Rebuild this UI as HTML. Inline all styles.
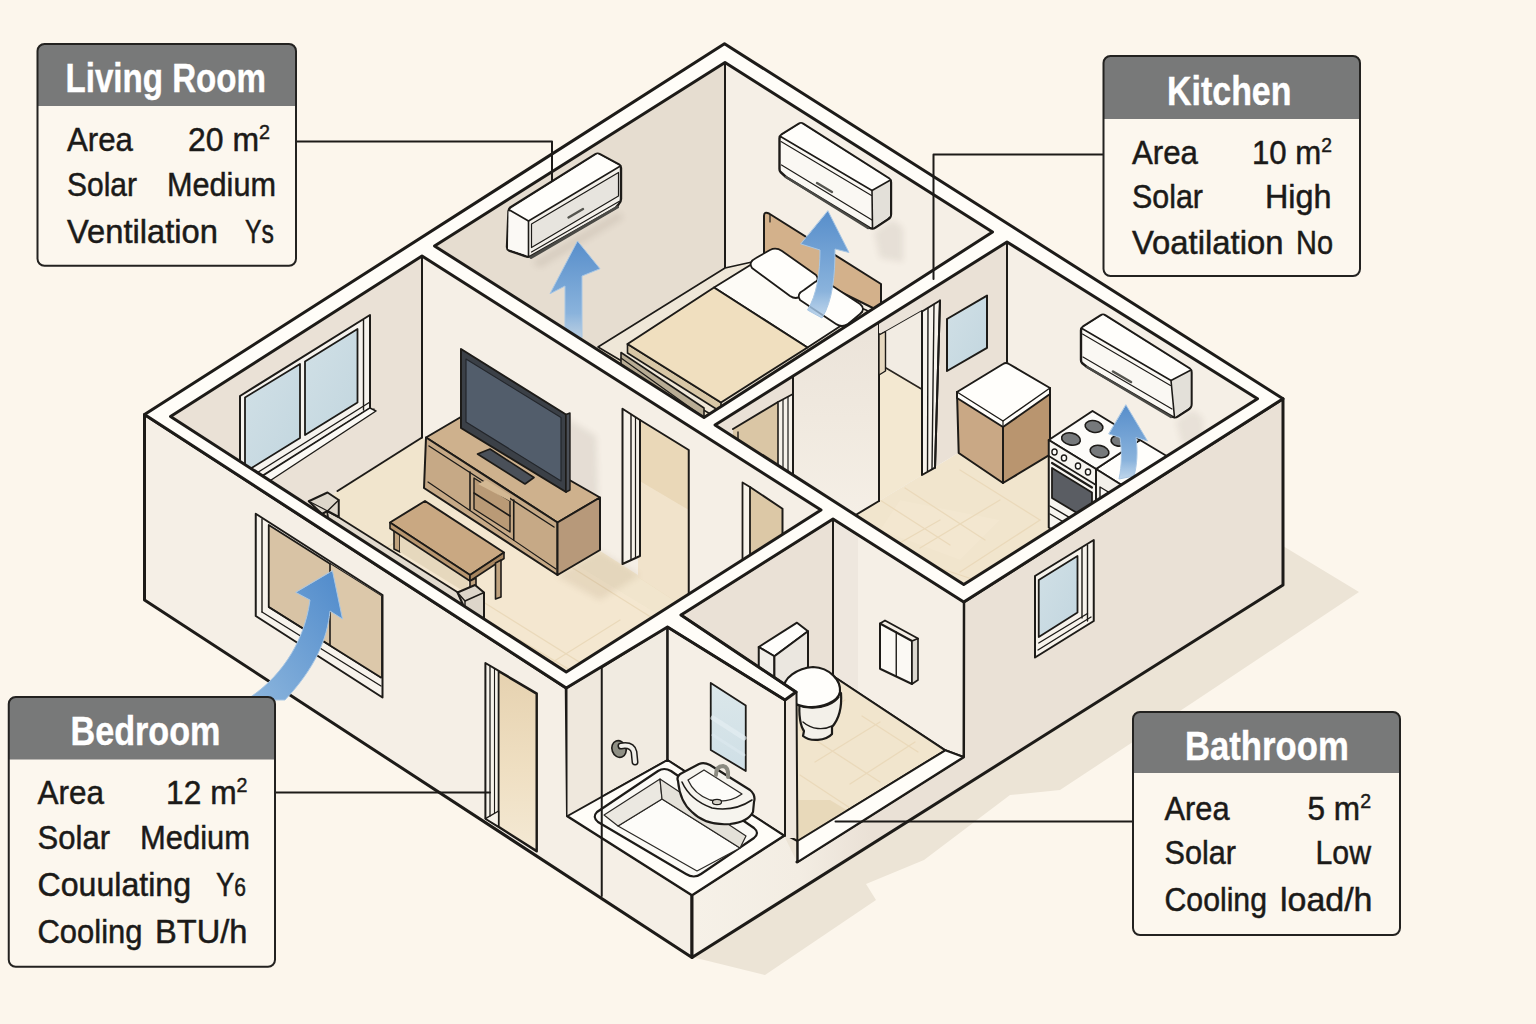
<!DOCTYPE html>
<html><head><meta charset="utf-8"><title>Cooling load floor plan</title>
<style>
html,body{margin:0;padding:0;background:#fcf6ec;}
body{width:1536px;height:1024px;overflow:hidden;font-family:"Liberation Sans",sans-serif;}
svg{display:block;}
text{font-family:"Liberation Sans",sans-serif;}
</style></head><body>
<svg width="1536" height="1024" viewBox="0 0 1536 1024">
<defs>
<linearGradient id="ar" x1="0" y1="0" x2="0" y2="1"><stop offset="0" stop-color="#578ecb"/><stop offset="0.75" stop-color="#8ab3dc"/><stop offset="1" stop-color="#a9c8e6" stop-opacity="0.75"/></linearGradient>
<linearGradient id="ar2" x1="0" y1="1" x2="1" y2="0"><stop offset="0" stop-color="#8db6dd"/><stop offset="1" stop-color="#4f8acb"/></linearGradient>
<linearGradient id="gl" x1="0" y1="0" x2="1" y2="1"><stop offset="0" stop-color="#d1e0e6"/><stop offset="1" stop-color="#c2d6df"/></linearGradient>
<filter id="bl" x="-30%" y="-30%" width="160%" height="160%"><feGaussianBlur stdDeviation="3"/></filter>
<linearGradient id="mir" x1="0" y1="0" x2="0" y2="1"><stop offset="0" stop-color="#dbe7ea"/><stop offset="1" stop-color="#cfdfe6"/></linearGradient>
</defs>
<rect x="0" y="0" width="1536" height="1024" fill="#fcf6ec"/>
<polygon points="1283,546 1359,592 1192,703 1060,790 1010,795 924,860 866,884 876,900 765,975 692,957 600,900 1283,500" fill="#ece4d6" stroke="none" stroke-width="0" stroke-linejoin="round" />
<polygon points="144.5,414.5 566.25,688 567.5,816 692,895 692,957.5 144.5,600" fill="#f5efe6" stroke="#1d1b18" stroke-width="3" stroke-linejoin="round" />
<polygon points="963.75,602 1283,398.75 1283,585 692,957.5 692,895 784,835.6 797,862 963.5,757" fill="#eae1d6" stroke="none" stroke-width="0" stroke-linejoin="round" />
<linearGradient id="lw" x1="0" y1="0" x2="1" y2="0"><stop offset="0" stop-color="#f6f1e8"/><stop offset="0.6" stop-color="#f3ede3"/><stop offset="1" stop-color="#eae1d6"/></linearGradient>
<polygon points="692,895 784,835.6 797,862 870,816 870,845 692,957.5" fill="url(#lw)" stroke="none" stroke-width="0" stroke-linejoin="round" />
<polyline points="797,862 963.5,757 963.75,602 1283,398.75 1283,585 692,957.5 692,895 784,835.6" fill="none" stroke="#1d1b18" stroke-width="3" stroke-linejoin="round" stroke-linecap="round" />
<polygon points="833,519 681,615 681,790 833,676" fill="#eae1d6" stroke="#1d1b18" stroke-width="2" stroke-linejoin="round" />
<polygon points="833,519 963.75,602 963.5,757 945.3,750.3 833,676" fill="#f5efe6" stroke="#1d1b18" stroke-width="2" stroke-linejoin="round" />
<polygon points="833,521 858,537 858,692 833,676" fill="#7a5a4a" stroke="none" stroke-width="0" stroke-linejoin="round" opacity="0.05"/>
<polygon points="833,676 945.3,750.3 797.5,841 700,790 700,740" fill="#f1e5cd" stroke="#1d1b18" stroke-width="2" stroke-linejoin="round" />
<polyline points="800,730 880,782" fill="none" stroke="#ead9ba" stroke-width="1.3" stroke-linejoin="round" stroke-linecap="round" />
<polyline points="845,700 800,728" fill="none" stroke="#ead9ba" stroke-width="1.3" stroke-linejoin="round" stroke-linecap="round" />
<polyline points="880,722 815,762" fill="none" stroke="#ead9ba" stroke-width="1.3" stroke-linejoin="round" stroke-linecap="round" />
<polyline points="915,742 850,784" fill="none" stroke="#ead9ba" stroke-width="1.3" stroke-linejoin="round" stroke-linecap="round" />
<polyline points="800,775 850,808" fill="none" stroke="#ead9ba" stroke-width="1.3" stroke-linejoin="round" stroke-linecap="round" />
<polyline points="862,716 918,752" fill="none" stroke="#ead9ba" stroke-width="1.3" stroke-linejoin="round" stroke-linecap="round" />
<polygon points="798,800 830,800 850,812 798,841" fill="#e3d0ad" stroke="none" stroke-width="0" stroke-linejoin="round" opacity="0.6"/>
<polygon points="945.3,750.3 963.5,757 797.5,862 797.5,841" fill="#fffdf8" stroke="#1d1b18" stroke-width="2" stroke-linejoin="round" />
<polyline points="833,519 833,676" fill="none" stroke="#1d1b18" stroke-width="2" stroke-linejoin="round" stroke-linecap="round" />
<polygon points="880,623.5 912,641 912,684 880,668.75" fill="#fbf9f4" stroke="#1d1b18" stroke-width="2" stroke-linejoin="round" />
<polygon points="912,641 918,638.5 918,680 912,684" fill="#dcd8d0" stroke="#1d1b18" stroke-width="1.6" stroke-linejoin="round" />
<path d="M 880 623.5 L 885 620.5 L 918 638.5" fill="none" stroke="#1d1b18" stroke-width="1.8" stroke-linejoin="round" stroke-linecap="round" />
<polyline points="896.25,632 896.25,676" fill="none" stroke="#1d1b18" stroke-width="1.4" stroke-linejoin="round" stroke-linecap="round" />
<polygon points="758.75,647 797,622.7 808,631.25 774.4,656.25" fill="#fffefb" stroke="#1d1b18" stroke-width="2" stroke-linejoin="round" />
<polygon points="758.75,647 774.4,656.25 774.4,690 758.75,682" fill="#f1eee8" stroke="#1d1b18" stroke-width="2" stroke-linejoin="round" />
<polygon points="774.4,656.25 808,631.25 808,667 774.4,690" fill="#ebe7e0" stroke="#1d1b18" stroke-width="2" stroke-linejoin="round" />
<path d="M 800 700 C 798 716, 801 727, 804 731 L 803 736 C 810 742, 826 741, 832 734 L 832 727 C 839 719, 842 707, 841 693 Z" fill="#f3f0e9" stroke="#1d1b18" stroke-width="2.2" stroke-linejoin="round" stroke-linecap="round" />
<path d="M 803 722 C 812 730, 824 730, 832 726" fill="none" stroke="#1d1b18" stroke-width="1.4" stroke-linejoin="round" stroke-linecap="round" />
<path d="M 784 690 C 782 678, 798 668, 813 667 C 830 668, 841 680, 840 692 C 838 702, 822 708, 808 707 C 796 706, 786 700, 784 690 Z" fill="#fffefb" stroke="#1d1b18" stroke-width="2.2" stroke-linejoin="round" stroke-linecap="round" />
<path d="M 786 696 C 796 712, 828 712, 839 697" fill="none" stroke="#1d1b18" stroke-width="1.4" stroke-linejoin="round" stroke-linecap="round" />
<polygon points="567.5,688.75 667.5,627 667.5,760 567.5,816" fill="#f1ebe1" stroke="#1d1b18" stroke-width="2" stroke-linejoin="round" />
<polygon points="567.5,688.75 601.75,667.5 601.75,797 567.5,816" fill="#efe8dd" stroke="none" stroke-width="0" stroke-linejoin="round" />
<polygon points="667.5,627 785,700 785,836 667.5,760" fill="#f5efe6" stroke="#1d1b18" stroke-width="2" stroke-linejoin="round" />
<polygon points="785,700 796.5,692 796.5,838 785,838" fill="#efe7dd" stroke="none" stroke-width="0" stroke-linejoin="round" />
<polyline points="785,700 785,836" fill="none" stroke="#1d1b18" stroke-width="2" stroke-linejoin="round" stroke-linecap="round" />
<polyline points="796.5,692 797.5,862" fill="none" stroke="#1d1b18" stroke-width="2" stroke-linejoin="round" stroke-linecap="round" />
<polygon points="710.75,683 745.75,705.5 745.75,771 710.75,750" fill="url(#mir)" stroke="#1d1b18" stroke-width="1.8" stroke-linejoin="round" />
<polyline points="713,718 744,738" fill="none" stroke="#e4eef2" stroke-width="5" stroke-linejoin="round" stroke-linecap="round" opacity="0.7"/>
<polyline points="713,735 744,755" fill="none" stroke="#dbe8ee" stroke-width="3" stroke-linejoin="round" stroke-linecap="round" opacity="0.7"/>
<polygon points="567.5,816 667.5,760 784,835.6 692,895" fill="#fffdf8" stroke="#1d1b18" stroke-width="2" stroke-linejoin="round" />
<path d="M 597 812 L 658 771 Q 664 767 671 771 L 754 828 Q 760 833 754 838 L 701 874 Q 694 879 686 874 L 598 822 Q 592 817 597 812 Z" fill="#fbfaf6" stroke="#1d1b18" stroke-width="2.2" stroke-linejoin="round" stroke-linecap="round" />
<path d="M 618 826 L 662 799 L 740 848 L 697 871 Z" fill="#fdfcf9" stroke="#2a2825" stroke-width="1.2" stroke-linejoin="round" stroke-linecap="round" />
<path d="M 604 815 L 660 779 L 662 799 L 618 826 Z" fill="#ebe8e1" stroke="#2a2825" stroke-width="1.2" stroke-linejoin="round" stroke-linecap="round" />
<path d="M 660 779 L 746 836 L 740 848 L 662 799 Z" fill="#e4e1d9" stroke="#2a2825" stroke-width="1.2" stroke-linejoin="round" stroke-linecap="round" />
<path d="M 678 781 Q 676 776 682 773 L 699 764 Q 704 762 710 765 L 750 790 Q 756 795 754 802 L 753 812 Q 748 822 730 824 Q 706 826 692 812 Q 680 802 678 781 Z" fill="#f6f4ee" stroke="#1d1b18" stroke-width="2.2" stroke-linejoin="round" stroke-linecap="round" />
<path d="M 682 782 Q 690 800 712 808 Q 734 812 752 800" fill="none" stroke="#1d1b18" stroke-width="1.6" stroke-linejoin="round" stroke-linecap="round" />
<path d="M 688 780 L 704 770 L 742 794 Q 728 804 710 800 Q 694 794 688 780 Z" fill="#fdfcf9" stroke="#2a2825" stroke-width="1.3" stroke-linejoin="round" stroke-linecap="round" />
<ellipse cx="717" cy="802" rx="4.5" ry="2.6" fill="#d6d2c8" stroke="#1d1b18" stroke-width="1.2"/>
<path d="M 716 775 Q 716 766 723 766 Q 729 767 728 777" fill="none" stroke="#8b8a80" stroke-width="4" stroke-linejoin="round" stroke-linecap="round" />
<path d="M 716 775 Q 716 766 723 766 Q 729 767 728 777" fill="none" stroke="#1d1b18" stroke-width="1" stroke-linejoin="round" stroke-linecap="round" opacity="0.0"/>
<ellipse cx="619" cy="749" rx="7" ry="8.5" fill="#8f8f84" stroke="#1d1b18" stroke-width="1.6" transform="rotate(-20 619 749)"/>
<path d="M 621 746 Q 632 744 634 752 L 635 762" fill="none" stroke="#1d1b18" stroke-width="7" stroke-linejoin="round" stroke-linecap="round" />
<path d="M 621 746 Q 632 744 634 752 L 635 762" fill="none" stroke="#f1efe9" stroke-width="4" stroke-linejoin="round" stroke-linecap="round" />
<polyline points="601.75,667.5 601.75,896" fill="none" stroke="#1d1b18" stroke-width="2" stroke-linejoin="round" stroke-linecap="round" />
<polyline points="667.5,627 667.5,760" fill="none" stroke="#1d1b18" stroke-width="2" stroke-linejoin="round" stroke-linecap="round" />
<polygon points="724.5,43.75 1283,398.75 963.75,602 833,519 681,615 796,692 785,700 667.5,627 566.25,688 144.5,414.5" fill="#fffdf8" stroke="#1d1b18" stroke-width="3" stroke-linejoin="round" />
<clipPath id="cliv"><polygon points="170.5,416.5 422,256 821,510 566.25,672"/></clipPath>
<g clip-path="url(#cliv)">
<polygon points="170.5,416.5 422,256 422,437.5 170.5,598" fill="#eae1d6" stroke="none" stroke-width="0" stroke-linejoin="round" />
<polygon points="422,256 821,510 821,694 422,437.5" fill="#f5efe6" stroke="none" stroke-width="0" stroke-linejoin="round" />
<polygon points="422,437.5 821,691.5 566,853 170.5,598" fill="#f1e5cd" stroke="none" stroke-width="0" stroke-linejoin="round" />
<polygon points="470,500 700,640 600,700 380,560" fill="#f6ead3" stroke="none" stroke-width="0" stroke-linejoin="round" opacity="0.55"/>
<polyline points="480,600 640,700" fill="none" stroke="#ead9ba" stroke-width="1.3" stroke-linejoin="round" stroke-linecap="round" />
<polyline points="560,560 700,648" fill="none" stroke="#ead9ba" stroke-width="1.3" stroke-linejoin="round" stroke-linecap="round" />
<polyline points="620,620 540,670" fill="none" stroke="#ead9ba" stroke-width="1.3" stroke-linejoin="round" stroke-linecap="round" />
<polyline points="690,610 590,672" fill="none" stroke="#ead9ba" stroke-width="1.3" stroke-linejoin="round" stroke-linecap="round" />
<polyline points="520,640 580,676" fill="none" stroke="#ead9ba" stroke-width="1.3" stroke-linejoin="round" stroke-linecap="round" />
<polyline points="660,590 740,640" fill="none" stroke="#ead9ba" stroke-width="1.3" stroke-linejoin="round" stroke-linecap="round" />
<polyline points="600,690 640,664" fill="none" stroke="#ead9ba" stroke-width="1.3" stroke-linejoin="round" stroke-linecap="round" />
<polyline points="430,520 380,552" fill="none" stroke="#ead9ba" stroke-width="1.3" stroke-linejoin="round" stroke-linecap="round" />
<polyline points="700,650 640,690" fill="none" stroke="#ead9ba" stroke-width="1.3" stroke-linejoin="round" stroke-linecap="round" />
<polyline points="422,256 422,437.5" fill="none" stroke="#1d1b18" stroke-width="2" stroke-linejoin="round" stroke-linecap="round" />
<polyline points="422,437.5 337.5,491" fill="none" stroke="#1d1b18" stroke-width="2" stroke-linejoin="round" stroke-linecap="round" />
<polygon points="240,396 370,315 370,408 240,490" fill="#f6f3ee" stroke="#1d1b18" stroke-width="2" stroke-linejoin="round" />
<polygon points="245,397.5 300,364 300,438 245,472" fill="url(#gl)" stroke="#1d1b18" stroke-width="1.8" stroke-linejoin="round" />
<polygon points="305,361.5 357.5,329 357.5,402.5 305,435" fill="url(#gl)" stroke="#1d1b18" stroke-width="1.8" stroke-linejoin="round" />
<polyline points="363.5,320 363.5,410" fill="none" stroke="#1d1b18" stroke-width="1.4" stroke-linejoin="round" stroke-linecap="round" />
<polyline points="252,476 370,402" fill="none" stroke="#1d1b18" stroke-width="1.4" stroke-linejoin="round" stroke-linecap="round" />
<polyline points="258,482 374,409" fill="none" stroke="#1d1b18" stroke-width="1.4" stroke-linejoin="round" stroke-linecap="round" />
<polygon points="370,408 376,411 262,486 250,484" fill="#fbf9f5" stroke="#1d1b18" stroke-width="1.4" stroke-linejoin="round" />
<polygon points="638,420 688.75,450 688.75,610 638,577" fill="#ead8b8" stroke="none" stroke-width="0" stroke-linejoin="round" />
<polygon points="638,480 688.75,510 688.75,610 638,577" fill="#f2e6cf" stroke="none" stroke-width="0" stroke-linejoin="round" opacity="0.8"/>
<polyline points="640,420 688.75,450 688.75,598" fill="none" stroke="#1d1b18" stroke-width="2" stroke-linejoin="round" stroke-linecap="round" />
<polygon points="622.5,408.75 640,420 640,556 622.5,564" fill="#f6f2ea" stroke="#1d1b18" stroke-width="2" stroke-linejoin="round" />
<polyline points="631,414.5 631,560" fill="none" stroke="#1d1b18" stroke-width="1.4" stroke-linejoin="round" stroke-linecap="round" />
<polyline points="635.5,417.5 635.5,558" fill="none" stroke="#1d1b18" stroke-width="1.2" stroke-linejoin="round" stroke-linecap="round" />
<polygon points="750,487 782.5,508.75 782.5,670 750,650" fill="#dcc8a6" stroke="none" stroke-width="0" stroke-linejoin="round" />
<polyline points="750,487 782.5,508.75 782.5,600" fill="none" stroke="#1d1b18" stroke-width="2" stroke-linejoin="round" stroke-linecap="round" />
<polygon points="742.5,482.5 750,487 750,650 742.5,645" fill="#f6f2ea" stroke="#1d1b18" stroke-width="1.8" stroke-linejoin="round" />
<polygon points="566,418 596,436 598,500 566,492" fill="#5a4a3a" stroke="none" stroke-width="0" stroke-linejoin="round" opacity="0.10" filter="url(#bl)"/>
<polygon points="557,576 600,551 640,575 600,600" fill="#8a6d45" stroke="none" stroke-width="0" stroke-linejoin="round" opacity="0.12" filter="url(#bl)"/>
<polygon points="426,437.5 460,417.5 600,497.5 557.5,522.5" fill="#ceb18d" stroke="#1d1b18" stroke-width="2" stroke-linejoin="round" />
<polygon points="426,437.5 557.5,522.5 557.5,575 424,488" fill="#c6a986" stroke="#1d1b18" stroke-width="2" stroke-linejoin="round" />
<polygon points="557.5,522.5 600,497.5 600,550 557.5,575" fill="#b7997a" stroke="#1d1b18" stroke-width="2" stroke-linejoin="round" />
<polyline points="429,446 554,527" fill="none" stroke="#1d1b18" stroke-width="1.4" stroke-linejoin="round" stroke-linecap="round" />
<polyline points="470,472 470,510" fill="none" stroke="#1d1b18" stroke-width="1.6" stroke-linejoin="round" stroke-linecap="round" />
<polyline points="513.75,500 513.75,540" fill="none" stroke="#1d1b18" stroke-width="1.6" stroke-linejoin="round" stroke-linecap="round" />
<polygon points="474,478 510,501 510,532 474,509" fill="#b99a76" stroke="#1d1b18" stroke-width="1.4" stroke-linejoin="round" />
<polyline points="474,493 510,516" fill="none" stroke="#1d1b18" stroke-width="1.6" stroke-linejoin="round" stroke-linecap="round" />
<polygon points="478,484 486,480 510,495 510,501" fill="#d3b893" stroke="none" stroke-width="0" stroke-linejoin="round" />
<polyline points="428,482 556,569" fill="none" stroke="#1d1b18" stroke-width="1.2" stroke-linejoin="round" stroke-linecap="round" />
<polygon points="477.5,454 490,449 534,477.5 525,484" fill="#4a5059" stroke="#1d1b18" stroke-width="1.6" stroke-linejoin="round" />
<polygon points="461,349 566,414.5 566,492 461,428" fill="#3b4047" stroke="#1d1b18" stroke-width="2" stroke-linejoin="round" />
<polygon points="566,414.5 570,413 570,490 566,492" fill="#4a4f57" stroke="#1d1b18" stroke-width="1.4" stroke-linejoin="round" />
<polygon points="466,359 561,417.5 561,481 466,422" fill="#525d6b" stroke="#23262b" stroke-width="1.2" stroke-linejoin="round" />
<polygon points="394,527 400,530 400,552 394,549" fill="#bfa27e" stroke="#1d1b18" stroke-width="1.6" stroke-linejoin="round" />
<polygon points="400,531 468,578 468,594 400,552" fill="#e6d8bd" stroke="none" stroke-width="0" stroke-linejoin="round" />
<polygon points="390,522.5 425,501 504,552.5 470,575" fill="#c9a882" stroke="#1d1b18" stroke-width="2" stroke-linejoin="round" />
<polygon points="390,522.5 470,575 470,581 390,528.5" fill="#b8966f" stroke="#1d1b18" stroke-width="1.6" stroke-linejoin="round" />
<polygon points="470,575 504,552.5 504,558.5 470,581" fill="#a88660" stroke="#1d1b18" stroke-width="1.6" stroke-linejoin="round" />
<polygon points="495.5,563 501,560 501,597 495.5,599" fill="#bfa27e" stroke="#1d1b18" stroke-width="1.6" stroke-linejoin="round" />
<polygon points="470,581 476,578 476,600 470,603" fill="#bfa27e" stroke="#1d1b18" stroke-width="1.6" stroke-linejoin="round" />
<polygon points="327,511 339,517.5 458,592.5 466,612 330,530" fill="#e2dbcf" stroke="#1d1b18" stroke-width="1.8" stroke-linejoin="round" />
<polyline points="333,522 460,603" fill="none" stroke="#1d1b18" stroke-width="1.1" stroke-linejoin="round" stroke-linecap="round" />
<polygon points="308.75,501.25 327.5,492.5 338.75,500 338.75,517 327.5,511 322,514" fill="#ddd6ca" stroke="#1d1b18" stroke-width="2" stroke-linejoin="round" />
<polyline points="327.5,511 338.75,500" fill="none" stroke="#1d1b18" stroke-width="1.4" stroke-linejoin="round" stroke-linecap="round" />
<polyline points="308.75,501.25 322,508 327.5,511" fill="none" stroke="#1d1b18" stroke-width="1.2" stroke-linejoin="round" stroke-linecap="round" />
<polygon points="457.5,592.5 475,585 484,592.5 484,620 465,609" fill="#ddd6ca" stroke="#1d1b18" stroke-width="2" stroke-linejoin="round" />
<polyline points="465,601 484,592.5" fill="none" stroke="#1d1b18" stroke-width="1.4" stroke-linejoin="round" stroke-linecap="round" />
<polyline points="457.5,592.5 465,601 465,609" fill="none" stroke="#1d1b18" stroke-width="1.4" stroke-linejoin="round" stroke-linecap="round" />
</g>
<clipPath id="cbed"><polygon points="434.5,246 725,62.5 992.5,232 704,417.5"/></clipPath>
<g clip-path="url(#cbed)">
<polygon points="434.5,246 725,62.5 725,268 434.5,452" fill="#e6ddd0" stroke="none" stroke-width="0" stroke-linejoin="round" />
<polygon points="725,62.5 992.5,232 992.5,440 725,268" fill="#f5efe6" stroke="none" stroke-width="0" stroke-linejoin="round" />
<polygon points="725,268 992.5,440 704,620 434.5,452" fill="#f1e5cd" stroke="none" stroke-width="0" stroke-linejoin="round" />
<polyline points="725,62.5 725,268" fill="none" stroke="#1d1b18" stroke-width="2" stroke-linejoin="round" stroke-linecap="round" />
<polygon points="532,262 618,212 624,218 540,268" fill="#5a4a3a" stroke="none" stroke-width="0" stroke-linejoin="round" opacity="0.10" filter="url(#bl)"/>
<path d="M 508.5 211 Q 508.5 208.5 511 207 L 595 154.5 Q 597.5 153 600 154.3 L 619 164.5 Q 621 165.6 621 168 L 621 199 Q 621 202 618.5 204.5 L 615.6 208 L 531 256 Q 528 257.5 525 256 L 509 250.5 Q 507 249.5 507 247 Z" fill="#f3f0ea" stroke="#1d1b18" stroke-width="2.4" stroke-linejoin="round" stroke-linecap="round" />
<polygon points="510,209.4 597.5,154 619.5,166 529,221" fill="#fffefb" stroke="none" stroke-width="0" stroke-linejoin="round" />
<polygon points="508.5,211 528,221.5 528,255.5 508,249" fill="#fbf9f5" stroke="none" stroke-width="0" stroke-linejoin="round" />
<polyline points="509.5,210 528.5,221 620,166.3" fill="none" stroke="#1d1b18" stroke-width="1.6" stroke-linejoin="round" stroke-linecap="round" />
<polyline points="528.5,221 528.5,256" fill="none" stroke="#1d1b18" stroke-width="1.6" stroke-linejoin="round" stroke-linecap="round" />
<polygon points="531.5,224 618.5,172.5 618.5,196 531.5,247.5" fill="#e7e4de" stroke="#1d1b18" stroke-width="1.2" stroke-linejoin="round" />
<polyline points="531,257.5 617.5,207" fill="none" stroke="#4a4a46" stroke-width="3" stroke-linejoin="round" stroke-linecap="round" />
<polyline points="531.5,252 619,201.5" fill="none" stroke="#1d1b18" stroke-width="1.2" stroke-linejoin="round" stroke-linecap="round" />
<polyline points="568.5,217.5 583,209" fill="none" stroke="#55554f" stroke-width="2.4" stroke-linejoin="round" stroke-linecap="round" />
<polygon points="577.5,241 600,268.75 582,276 582,337.5 565,327.5 565,286 550,293.75" fill="url(#ar)" stroke="#a9c7e4" stroke-width="1" stroke-linejoin="round" />
<polygon points="598,347 725,268 752,262 866,310 880,318 722,421 620,360" fill="#efe7d8" stroke="#1d1b18" stroke-width="1.6" stroke-linejoin="round" />
<polygon points="621,352.5 704,408 704,428 621,364" fill="#b9ad95" stroke="#1d1b18" stroke-width="1.6" stroke-linejoin="round" />
<polyline points="621,358 704,417.5" fill="none" stroke="#1d1b18" stroke-width="1.2" stroke-linejoin="round" stroke-linecap="round" />
<polygon points="627.5,344 721,402.5 721,412 627.5,353" fill="#d8c7a6" stroke="#1d1b18" stroke-width="1.6" stroke-linejoin="round" />
<polygon points="714,287.5 752,264 862,312 807.5,347.5" fill="#fdfbf6" stroke="#1d1b18" stroke-width="1.8" stroke-linejoin="round" />
<polygon points="627.5,344 714,287.5 807.5,347.5 721,402.5" fill="#f0dfbf" stroke="#1d1b18" stroke-width="2" stroke-linejoin="round" />
<path d="M 764 216 Q 764 211 769 213.5 L 881 284 L 881 312 L 764 254 Z" fill="#d3b18b" stroke="#1d1b18" stroke-width="2" stroke-linejoin="round" stroke-linecap="round" />
<polyline points="770,214.5 770,222" fill="none" stroke="#1d1b18" stroke-width="1.2" stroke-linejoin="round" stroke-linecap="round" />
<path d="M 752 268 Q 748 262 756 258 L 770 250 Q 776 247 782 251 L 816 275 Q 820 280 814 284 L 801 296 Q 796 300 790 296 Z" fill="#fffefb" stroke="#1d1b18" stroke-width="1.8" stroke-linejoin="round" stroke-linecap="round" />
<path d="M 800 300 Q 796 294 804 290 L 815 282 Q 821 278 828 283 L 860 304 Q 866 309 860 314 L 848 324 Q 842 328 836 324 Z" fill="#fffefb" stroke="#1d1b18" stroke-width="1.8" stroke-linejoin="round" stroke-linecap="round" />
<polygon points="874,232 893,220 903,228 903,262 880,258" fill="#5a4a3a" stroke="none" stroke-width="0" stroke-linejoin="round" opacity="0.09" filter="url(#bl)"/>
<path d="M 779.5 138.5 Q 779.5 136 782 134.3 L 798.5 124 Q 801 122.5 803.5 124 L 889 178.5 Q 891 180 891 182.5 L 891 214 Q 891 217.5 888 219.3 L 875.5 227.5 Q 872.5 229.5 869.5 227.8 L 786 177 L 780.5 172 Q 779.5 171 779.5 169 Z" fill="#faf8f3" stroke="#1d1b18" stroke-width="2.4" stroke-linejoin="round" stroke-linecap="round" />
<polygon points="781,136 801,123.5 890,180 872,190.5" fill="#fffefb" stroke="none" stroke-width="0" stroke-linejoin="round" />
<polygon points="872.5,191 890,180.5 890,216 872.5,228" fill="#e3e0d9" stroke="none" stroke-width="0" stroke-linejoin="round" />
<polyline points="780.5,136.5 872,190.5 890.5,180" fill="none" stroke="#1d1b18" stroke-width="1.6" stroke-linejoin="round" stroke-linecap="round" />
<polyline points="872,190.5 872.5,228.5" fill="none" stroke="#1d1b18" stroke-width="1.6" stroke-linejoin="round" stroke-linecap="round" />
<polyline points="781,141.5 871.5,195.5" fill="none" stroke="#1d1b18" stroke-width="1.1" stroke-linejoin="round" stroke-linecap="round" />
<polyline points="781.5,165 872,220" fill="none" stroke="#1d1b18" stroke-width="1.2" stroke-linejoin="round" stroke-linecap="round" />
<polyline points="786,177 868,228" fill="none" stroke="#4a4a46" stroke-width="2.4" stroke-linejoin="round" stroke-linecap="round" />
<polyline points="817,183 832,192" fill="none" stroke="#55554f" stroke-width="2.4" stroke-linejoin="round" stroke-linecap="round" />
<path d="M 828 211 L 849 252.5 L 835 249 C 835 275, 833 300, 822 318 L 807.5 310 C 817 295, 820 272, 820 250 L 801 244 Z" fill="url(#ar)" stroke="#a9c7e4" stroke-width="1" stroke-linejoin="round" stroke-linecap="round" />
</g>
<clipPath id="ckit"><polygon points="1007,242 1257.5,398.75 963.75,584.5 715,425"/></clipPath>
<g clip-path="url(#ckit)">
<polygon points="1007,242 1257.5,398.75 1257.5,590 1007,423.5" fill="#f5efe6" stroke="none" stroke-width="0" stroke-linejoin="round" />
<polygon points="1007,423.5 1257.5,585 963,700 715,600" fill="#f1e5cd" stroke="none" stroke-width="0" stroke-linejoin="round" />
<polygon points="900,500 1000,520 960,560 880,530" fill="#f6ead3" stroke="none" stroke-width="0" stroke-linejoin="round" opacity="0.5"/>
<polyline points="905,488 985,540" fill="none" stroke="#ead9ba" stroke-width="1.3" stroke-linejoin="round" stroke-linecap="round" />
<polyline points="960,470 1040,520" fill="none" stroke="#ead9ba" stroke-width="1.3" stroke-linejoin="round" stroke-linecap="round" />
<polyline points="940,520 870,560" fill="none" stroke="#ead9ba" stroke-width="1.3" stroke-linejoin="round" stroke-linecap="round" />
<polyline points="1000,500 920,548" fill="none" stroke="#ead9ba" stroke-width="1.3" stroke-linejoin="round" stroke-linecap="round" />
<polyline points="1040,520 960,572" fill="none" stroke="#ead9ba" stroke-width="1.3" stroke-linejoin="round" stroke-linecap="round" />
<polyline points="880,500 950,545" fill="none" stroke="#ead9ba" stroke-width="1.3" stroke-linejoin="round" stroke-linecap="round" />
<polyline points="915,560 975,580" fill="none" stroke="#ead9ba" stroke-width="1.3" stroke-linejoin="round" stroke-linecap="round" />
<polyline points="890,470 860,500" fill="none" stroke="#ead9ba" stroke-width="1.3" stroke-linejoin="round" stroke-linecap="round" />
<polygon points="1007,242 1007,423.5 715,600 715,425" fill="#eae1d6" stroke="none" stroke-width="0" stroke-linejoin="round" />
<polygon points="733,429 778,402 778,560 733,590" fill="#dac6a5" stroke="none" stroke-width="0" stroke-linejoin="round" />
<polyline points="733,429 778,402" fill="none" stroke="#1d1b18" stroke-width="2" stroke-linejoin="round" stroke-linecap="round" />
<polyline points="738,432 738,480" fill="none" stroke="#1d1b18" stroke-width="1.4" stroke-linejoin="round" stroke-linecap="round" />
<polygon points="778,402 793,394 793,480 778,487" fill="#f6f2ea" stroke="#1d1b18" stroke-width="1.6" stroke-linejoin="round" />
<polyline points="783,399.5 783,484" fill="none" stroke="#1d1b18" stroke-width="1.2" stroke-linejoin="round" stroke-linecap="round" />
<polyline points="788,397 788,482" fill="none" stroke="#1d1b18" stroke-width="1.2" stroke-linejoin="round" stroke-linecap="round" />
<linearGradient id="wg" x1="0" y1="0" x2="0" y2="1"><stop offset="0" stop-color="#ebe3d9"/><stop offset="0.5" stop-color="#f0e9df"/><stop offset="1" stop-color="#f5efe6"/></linearGradient>
<polygon points="793,375 879,321 879,501 854,516 793,478" fill="url(#wg)" stroke="#1d1b18" stroke-width="2" stroke-linejoin="round" />
<polygon points="879,321 922,294.5 922,311 879,335.5" fill="#ebe3d9" stroke="none" stroke-width="0" stroke-linejoin="round" />
<polyline points="879,335.5 922,311" fill="none" stroke="#1d1b18" stroke-width="2" stroke-linejoin="round" stroke-linecap="round" />
<polygon points="879,335.5 922,311 922,475 879,501" fill="#f2ece3" stroke="none" stroke-width="0" stroke-linejoin="round" />
<polygon points="885.5,368 922,389 922,475 879,501 879,376" fill="#f3e8d1" stroke="none" stroke-width="0" stroke-linejoin="round" />
<polyline points="886,368 921,388.75" fill="none" stroke="#2a2621" stroke-width="1.6" stroke-linejoin="round" stroke-linecap="round" />
<polyline points="879,334 879,501" fill="none" stroke="#1d1b18" stroke-width="2" stroke-linejoin="round" stroke-linecap="round" />
<polygon points="922,311.5 940,300.5 935,467.7 922,475" fill="#f7f3ec" stroke="#1d1b18" stroke-width="2" stroke-linejoin="round" />
<polyline points="928,308 927.5,471" fill="none" stroke="#1d1b18" stroke-width="1.4" stroke-linejoin="round" stroke-linecap="round" />
<polyline points="934,304.5 932,469" fill="none" stroke="#1d1b18" stroke-width="1.4" stroke-linejoin="round" stroke-linecap="round" />
<polygon points="879,335 885.5,331.5 885.5,371 879,375" fill="#e6d8bf" stroke="#1d1b18" stroke-width="1.4" stroke-linejoin="round" />
<polyline points="940,300.5 935,467.7" fill="none" stroke="#1d1b18" stroke-width="2" stroke-linejoin="round" stroke-linecap="round" />
<polygon points="947,319 987,295.6 987,347.8 947,371" fill="url(#gl)" stroke="#1d1b18" stroke-width="2" stroke-linejoin="round" />
<polyline points="1007,242 1007,362" fill="none" stroke="#1d1b18" stroke-width="2" stroke-linejoin="round" stroke-linecap="round" />
<polygon points="957,392 1003,421 1003,483 958.7,453" fill="#c9a885" stroke="#1d1b18" stroke-width="2" stroke-linejoin="round" />
<polygon points="1003,421 1050,388 1050,454.7 1003,483" fill="#b9956f" stroke="#1d1b18" stroke-width="2" stroke-linejoin="round" />
<path d="M 957 392 L 1003 364 Q 1006 362 1009 364 L 1050 388 L 1050 394 L 1003 427 L 957 398 Z" fill="#fffefb" stroke="#1d1b18" stroke-width="2" stroke-linejoin="round" stroke-linecap="round" />
<polyline points="957,392 1003,421 1050,388" fill="none" stroke="#1d1b18" stroke-width="1.4" stroke-linejoin="round" stroke-linecap="round" />
<polyline points="1003,421 1003,427" fill="none" stroke="#1d1b18" stroke-width="1.2" stroke-linejoin="round" stroke-linecap="round" />
<polygon points="1096,469 1140,440 1180,464 1136,494" fill="#fffefb" stroke="#1d1b18" stroke-width="1.8" stroke-linejoin="round" />
<polygon points="1096,469 1136,494 1136,570 1096,548" fill="#f3f0ea" stroke="#1d1b18" stroke-width="1.8" stroke-linejoin="round" />
<polygon points="1100,487 1110,493 1110,506 1100,500" fill="#fbf9f5" stroke="#1d1b18" stroke-width="1.4" stroke-linejoin="round" />
<polygon points="1048.75,440 1092.5,411 1140,440 1096,469" fill="#fdfcf9" stroke="#1d1b18" stroke-width="2" stroke-linejoin="round" />
<polygon points="1048.75,440 1096,469 1096,556 1048.75,527.5" fill="#f7f5f0" stroke="#1d1b18" stroke-width="2" stroke-linejoin="round" />
<polyline points="1048.75,456 1096,485" fill="none" stroke="#1d1b18" stroke-width="1.6" stroke-linejoin="round" stroke-linecap="round" />
<polygon points="1052,468 1092,492.5 1092,522 1052,498" fill="#5a5d63" stroke="#1d1b18" stroke-width="1.8" stroke-linejoin="round" />
<polyline points="1052,463 1092,487.5" fill="none" stroke="#1d1b18" stroke-width="2.2" stroke-linejoin="round" stroke-linecap="round" />
<polyline points="1050,506 1094,532" fill="none" stroke="#1d1b18" stroke-width="1.4" stroke-linejoin="round" stroke-linecap="round" />
<polyline points="1050,514 1094,540" fill="none" stroke="#1d1b18" stroke-width="1.4" stroke-linejoin="round" stroke-linecap="round" />
<ellipse cx="1054.5" cy="452" rx="2.6" ry="3" fill="#fffefb" stroke="#1d1b18" stroke-width="1.4"/>
<ellipse cx="1064" cy="458" rx="2.6" ry="3" fill="#fffefb" stroke="#1d1b18" stroke-width="1.4"/>
<ellipse cx="1078" cy="466" rx="2.6" ry="3" fill="#fffefb" stroke="#1d1b18" stroke-width="1.4"/>
<ellipse cx="1088" cy="472" rx="2.6" ry="3" fill="#fffefb" stroke="#1d1b18" stroke-width="1.4"/>
<ellipse cx="1071" cy="439" rx="9.5" ry="6" fill="#76797b" stroke="#1d1b18" stroke-width="1.6" transform="rotate(12 1071 439)"/>
<ellipse cx="1094" cy="426.5" rx="9" ry="5.8" fill="#76797b" stroke="#1d1b18" stroke-width="1.6" transform="rotate(12 1094 426.5)"/>
<ellipse cx="1099.5" cy="451.5" rx="9.5" ry="6" fill="#76797b" stroke="#1d1b18" stroke-width="1.6" transform="rotate(12 1099.5 451.5)"/>
<ellipse cx="1118" cy="441" rx="7" ry="5" fill="#76797b" stroke="#1d1b18" stroke-width="1.6" transform="rotate(12 1118 441)"/>
<polygon points="1176,421 1193,410 1203,418 1203,448 1182,444" fill="#5a4a3a" stroke="none" stroke-width="0" stroke-linejoin="round" opacity="0.08" filter="url(#bl)"/>
<path d="M 1081 330.5 Q 1081 328 1083.5 326.3 L 1100.5 315.5 Q 1103 314 1105.5 315.5 L 1189.5 368.5 Q 1191.5 370 1191.5 372.5 L 1191.5 404 Q 1191.5 407.7 1188.5 409.5 L 1178 416.3 Q 1175 418.3 1172 416.5 L 1087 367 L 1082 363 Q 1081 362 1081 360 Z" fill="#faf8f3" stroke="#1d1b18" stroke-width="2.4" stroke-linejoin="round" stroke-linecap="round" />
<polygon points="1082.5,328 1103,315 1190.5,370 1171,380.5" fill="#fffefb" stroke="none" stroke-width="0" stroke-linejoin="round" />
<polygon points="1171.5,381 1190.5,370.5 1190.5,406 1175,417" fill="#e3e0d9" stroke="none" stroke-width="0" stroke-linejoin="round" />
<polyline points="1082,328.5 1171,380.5 1191,370" fill="none" stroke="#1d1b18" stroke-width="1.6" stroke-linejoin="round" stroke-linecap="round" />
<polyline points="1171,380.5 1174.5,417.5" fill="none" stroke="#1d1b18" stroke-width="1.6" stroke-linejoin="round" stroke-linecap="round" />
<polyline points="1082.5,334 1170.5,385.5" fill="none" stroke="#1d1b18" stroke-width="1.1" stroke-linejoin="round" stroke-linecap="round" />
<polyline points="1083,357 1172,409" fill="none" stroke="#1d1b18" stroke-width="1.2" stroke-linejoin="round" stroke-linecap="round" />
<polyline points="1087,367 1171,417" fill="none" stroke="#4a4a46" stroke-width="2.4" stroke-linejoin="round" stroke-linecap="round" />
<polyline points="1113,371.5 1131,382" fill="none" stroke="#55554f" stroke-width="2.6" stroke-linejoin="round" stroke-linecap="round" />
<path d="M 1126 405 L 1147.5 441 L 1136 437.5 C 1138 452, 1137 465, 1134 476 L 1119 479 C 1122 465, 1122 450, 1120 437.5 L 1109 434 Z" fill="url(#ar)" stroke="#a9c7e4" stroke-width="1" stroke-linejoin="round" stroke-linecap="round" />
</g>
<polygon points="170.5,416.5 422,256 821,510 566.25,672" fill="none" stroke="#1d1b18" stroke-width="3" stroke-linejoin="round" />
<polygon points="434.5,246 725,62.5 992.5,232 704,417.5" fill="none" stroke="#1d1b18" stroke-width="3" stroke-linejoin="round" />
<polygon points="1007,242 1257.5,398.75 963.75,584.5 715,425" fill="none" stroke="#1d1b18" stroke-width="3" stroke-linejoin="round" />
<polyline points="667.5,627 785,700" fill="none" stroke="#1d1b18" stroke-width="2.4" stroke-linejoin="round" stroke-linecap="round" />
<polyline points="681,615 796,692" fill="none" stroke="#1d1b18" stroke-width="2.4" stroke-linejoin="round" stroke-linecap="round" />
<polygon points="255.75,513.75 382.5,595 382.5,697.5 255.75,616" fill="#f7f3ec" stroke="#1d1b18" stroke-width="2" stroke-linejoin="round" />
<polygon points="268.75,525 381,596 381,677.5 268.75,607" fill="#d8c3a5" stroke="#1d1b18" stroke-width="1.8" stroke-linejoin="round" />
<polygon points="330,564 381,596 381,677.5 330,645" fill="#dcc8aa" stroke="none" stroke-width="0" stroke-linejoin="round" />
<polyline points="330,564 330,645" fill="none" stroke="#1d1b18" stroke-width="1.6" stroke-linejoin="round" stroke-linecap="round" />
<polyline points="262,519 262,612" fill="none" stroke="#1d1b18" stroke-width="1.4" stroke-linejoin="round" stroke-linecap="round" />
<polyline points="262,612 381,686" fill="none" stroke="#1d1b18" stroke-width="1.4" stroke-linejoin="round" stroke-linecap="round" />
<polyline points="268.75,607 381,677.5" fill="none" stroke="#1d1b18" stroke-width="1.6" stroke-linejoin="round" stroke-linecap="round" />
<polygon points="485.4,663 536.9,693.3 536.9,851.6 485.4,818.6" fill="#f6f2ea" stroke="#1d1b18" stroke-width="2" stroke-linejoin="round" />
<linearGradient id="dg" x1="0" y1="0" x2="0" y2="1"><stop offset="0" stop-color="#e6d2b0"/><stop offset="0.55" stop-color="#efdfc2"/><stop offset="1" stop-color="#f4e9d4"/></linearGradient>
<polygon points="498.6,671.5 536.4,694 536.4,850.6 498.6,826.5" fill="url(#dg)" stroke="#1d1b18" stroke-width="1.8" stroke-linejoin="round" />
<polygon points="485.4,818.6 498.6,811 498.6,826.5" fill="#f6f2ea" stroke="#1d1b18" stroke-width="1.4" stroke-linejoin="round" />
<polyline points="490,666 490,816" fill="none" stroke="#1d1b18" stroke-width="1.3" stroke-linejoin="round" stroke-linecap="round" />
<polyline points="494.5,668.5 494.5,813.5" fill="none" stroke="#1d1b18" stroke-width="1.1" stroke-linejoin="round" stroke-linecap="round" />
<polygon points="1035,576 1093.75,540 1093.75,621 1035,657.5" fill="#f7f3ec" stroke="#1d1b18" stroke-width="2" stroke-linejoin="round" />
<polygon points="1038.75,580 1077.5,556 1077.5,612.5 1038.75,637" fill="url(#gl)" stroke="#1d1b18" stroke-width="1.8" stroke-linejoin="round" />
<polyline points="1082,548 1082,618" fill="none" stroke="#1d1b18" stroke-width="1.4" stroke-linejoin="round" stroke-linecap="round" />
<polyline points="1087.5,545 1087.5,621" fill="none" stroke="#1d1b18" stroke-width="1.4" stroke-linejoin="round" stroke-linecap="round" />
<polyline points="1038.75,643 1087.5,613.5" fill="none" stroke="#1d1b18" stroke-width="1.4" stroke-linejoin="round" stroke-linecap="round" />
<polyline points="1038,650 1091,617" fill="none" stroke="#1d1b18" stroke-width="1.4" stroke-linejoin="round" stroke-linecap="round" />
<path d="M 332.5 571 L 342.5 619 L 330 611 C 327 640, 315 668, 285 700 L 246 700 C 278 680, 304 645, 310 600 L 296 592.5 Z" fill="url(#ar2)" stroke="#a9c7e4" stroke-width="1" stroke-linejoin="round" stroke-linecap="round" />
<polyline points="296,141.5 552,141.5 552,181" fill="none" stroke="#1d1b18" stroke-width="2" stroke-linejoin="round" stroke-linecap="round" />
<polyline points="1103.5,154.5 933.5,154.5 933.5,279" fill="none" stroke="#1d1b18" stroke-width="2" stroke-linejoin="round" stroke-linecap="round" />
<polyline points="275,792.5 490,792.5" fill="none" stroke="#1d1b18" stroke-width="2" stroke-linejoin="round" stroke-linecap="round" />
<polyline points="835.5,821.5 1133,821.5" fill="none" stroke="#1d1b18" stroke-width="2" stroke-linejoin="round" stroke-linecap="round" />
<rect x="37.5" y="44" width="258.5" height="221.75" rx="7" ry="7" fill="#fcf7ee" stroke="none"/>
<path d="M 37.5 106 L 37.5 51 Q 37.5 44 44.5 44 L 289 44 Q 296 44 296 51 L 296 106 Z" fill="#787979"/>
<rect x="37.5" y="44" width="258.5" height="221.75" rx="7" ry="7" fill="none" stroke="#232220" stroke-width="2"/>
<text x="65.5" y="92" font-size="40" font-weight="bold" fill="#ffffff" stroke="#ffffff" stroke-width="0.4" textLength="200.5" lengthAdjust="spacingAndGlyphs">Living Room</text>
<text x="67" y="151" font-size="34" fill="#1b1a18" stroke="#1b1a18" stroke-width="0.5" textLength="66" lengthAdjust="spacingAndGlyphs">Area</text>
<text x="188" y="151" font-size="34" fill="#1b1a18" stroke="#1b1a18" stroke-width="0.5" textLength="82" lengthAdjust="spacingAndGlyphs">20 m<tspan font-size="21" dy="-12">2</tspan></text>
<text x="67" y="196" font-size="34" fill="#1b1a18" stroke="#1b1a18" stroke-width="0.5" textLength="70" lengthAdjust="spacingAndGlyphs">Solar</text>
<text x="167" y="196" font-size="34" fill="#1b1a18" stroke="#1b1a18" stroke-width="0.5" textLength="109" lengthAdjust="spacingAndGlyphs">Medium</text>
<text x="67" y="243" font-size="34" fill="#1b1a18" stroke="#1b1a18" stroke-width="0.5" textLength="151" lengthAdjust="spacingAndGlyphs">Ventilation</text>
<text x="245" y="243" font-size="34" fill="#1b1a18" stroke="#1b1a18" stroke-width="0.5" textLength="29" lengthAdjust="spacingAndGlyphs">Ys</text>
<rect x="1103.5" y="56" width="256.5" height="220" rx="7" ry="7" fill="#fcf7ee" stroke="none"/>
<path d="M 1103.5 119 L 1103.5 63 Q 1103.5 56 1110.5 56 L 1353 56 Q 1360 56 1360 63 L 1360 119 Z" fill="#787979"/>
<rect x="1103.5" y="56" width="256.5" height="220" rx="7" ry="7" fill="none" stroke="#232220" stroke-width="2"/>
<text x="1167" y="104.5" font-size="40" font-weight="bold" fill="#ffffff" stroke="#ffffff" stroke-width="0.4" textLength="124.5" lengthAdjust="spacingAndGlyphs">Kitchen</text>
<text x="1132" y="164" font-size="34" fill="#1b1a18" stroke="#1b1a18" stroke-width="0.5" textLength="66" lengthAdjust="spacingAndGlyphs">Area</text>
<text x="1252" y="164" font-size="34" fill="#1b1a18" stroke="#1b1a18" stroke-width="0.5" textLength="80" lengthAdjust="spacingAndGlyphs">10 m<tspan font-size="21" dy="-12">2</tspan></text>
<text x="1132" y="207.5" font-size="34" fill="#1b1a18" stroke="#1b1a18" stroke-width="0.5" textLength="71" lengthAdjust="spacingAndGlyphs">Solar</text>
<text x="1265" y="207.5" font-size="34" fill="#1b1a18" stroke="#1b1a18" stroke-width="0.5" textLength="66.5" lengthAdjust="spacingAndGlyphs">High</text>
<text x="1132" y="254" font-size="34" fill="#1b1a18" stroke="#1b1a18" stroke-width="0.5" textLength="151.5" lengthAdjust="spacingAndGlyphs">Voatilation</text>
<text x="1296" y="254" font-size="34" fill="#1b1a18" stroke="#1b1a18" stroke-width="0.5" textLength="37" lengthAdjust="spacingAndGlyphs">No</text>
<rect x="8.75" y="697" width="266.25" height="269.75" rx="7" ry="7" fill="#fcf7ee" stroke="none"/>
<path d="M 8.75 759.5 L 8.75 704 Q 8.75 697 15.75 697 L 268 697 Q 275 697 275 704 L 275 759.5 Z" fill="#787979"/>
<rect x="8.75" y="697" width="266.25" height="269.75" rx="7" ry="7" fill="none" stroke="#232220" stroke-width="2"/>
<text x="70.5" y="744.5" font-size="40" font-weight="bold" fill="#ffffff" stroke="#ffffff" stroke-width="0.4" textLength="150" lengthAdjust="spacingAndGlyphs">Bedroom</text>
<text x="37.5" y="803.5" font-size="34" fill="#1b1a18" stroke="#1b1a18" stroke-width="0.5" textLength="66.5" lengthAdjust="spacingAndGlyphs">Area</text>
<text x="166" y="803.5" font-size="34" fill="#1b1a18" stroke="#1b1a18" stroke-width="0.5" textLength="81.5" lengthAdjust="spacingAndGlyphs">12 m<tspan font-size="21" dy="-12">2</tspan></text>
<text x="37.5" y="848.5" font-size="34" fill="#1b1a18" stroke="#1b1a18" stroke-width="0.5" textLength="72.5" lengthAdjust="spacingAndGlyphs">Solar</text>
<text x="140" y="848.5" font-size="34" fill="#1b1a18" stroke="#1b1a18" stroke-width="0.5" textLength="110" lengthAdjust="spacingAndGlyphs">Medium</text>
<text x="37.5" y="895.5" font-size="34" fill="#1b1a18" stroke="#1b1a18" stroke-width="0.5" textLength="153.5" lengthAdjust="spacingAndGlyphs">Couulating</text>
<text x="216" y="895.5" font-size="34" fill="#1b1a18" stroke="#1b1a18" stroke-width="0.5" textLength="30" lengthAdjust="spacingAndGlyphs">Y<tspan font-size="26">6</tspan></text>
<text x="37.5" y="943" font-size="34" fill="#1b1a18" stroke="#1b1a18" stroke-width="0.5" textLength="105" lengthAdjust="spacingAndGlyphs">Cooling</text>
<text x="155" y="943" font-size="34" fill="#1b1a18" stroke="#1b1a18" stroke-width="0.5" textLength="92.5" lengthAdjust="spacingAndGlyphs">BTU/h</text>
<rect x="1133" y="712" width="267" height="223" rx="7" ry="7" fill="#fcf7ee" stroke="none"/>
<path d="M 1133 773 L 1133 719 Q 1133 712 1140 712 L 1393 712 Q 1400 712 1400 719 L 1400 773 Z" fill="#787979"/>
<rect x="1133" y="712" width="267" height="223" rx="7" ry="7" fill="none" stroke="#232220" stroke-width="2"/>
<text x="1185" y="759.5" font-size="40" font-weight="bold" fill="#ffffff" stroke="#ffffff" stroke-width="0.4" textLength="163.75" lengthAdjust="spacingAndGlyphs">Bathroom</text>
<text x="1164.5" y="819.5" font-size="34" fill="#1b1a18" stroke="#1b1a18" stroke-width="0.5" textLength="65" lengthAdjust="spacingAndGlyphs">Area</text>
<text x="1307.5" y="819.5" font-size="34" fill="#1b1a18" stroke="#1b1a18" stroke-width="0.5" textLength="63.5" lengthAdjust="spacingAndGlyphs">5 m<tspan font-size="21" dy="-12">2</tspan></text>
<text x="1164.5" y="863.75" font-size="34" fill="#1b1a18" stroke="#1b1a18" stroke-width="0.5" textLength="71.5" lengthAdjust="spacingAndGlyphs">Solar</text>
<text x="1315.5" y="863.75" font-size="34" fill="#1b1a18" stroke="#1b1a18" stroke-width="0.5" textLength="55.5" lengthAdjust="spacingAndGlyphs">Low</text>
<text x="1164.5" y="910.5" font-size="34" fill="#1b1a18" stroke="#1b1a18" stroke-width="0.5" textLength="102.5" lengthAdjust="spacingAndGlyphs">Cooling</text>
<text x="1280" y="910.5" font-size="34" fill="#1b1a18" stroke="#1b1a18" stroke-width="0.5" textLength="92.5" lengthAdjust="spacingAndGlyphs">load/h</text>
</svg>
</body></html>
